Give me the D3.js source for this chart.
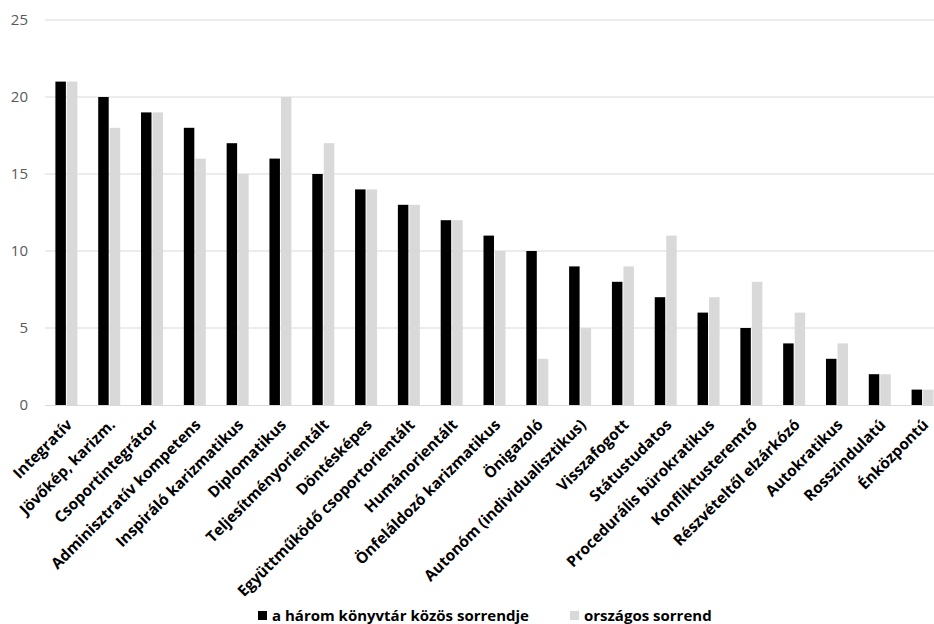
<!DOCTYPE html>
<html>
<head>
<meta charset="utf-8">
<script src="https://cdn.jsdelivr.net/npm/d3@7"></script>
<style>
  html, body { margin: 0; padding: 0; background: #fff; }
  svg { display: block; }
</style>
</head>
<body>
<svg id="chart" width="934" height="624"></svg>
<script>
// Leadership style rankings
const categories = [
  "Integratív", "Jövőkép, karizm.", "Csoportintegrátor", "Adminisztratív kompetens",
  "Inspiráló karizmatikus", "Diplomatikus", "Teljesítményorientált", "Döntésképes",
  "Együttműködő csoportorientált", "Humánorientált", "Önfeláldozó karizmatikus",
  "Önigazoló", "Autonóm (individualisztikus)", "Visszafogott", "Státustudatos",
  "Procedurális bürokratikus", "Konfliktusteremtő", "Részvételtől elzárkózó",
  "Autokratikus", "Rosszindulatú", "Énközpontú"
];
const kozosSorrend = [21, 20, 19, 18, 17, 16, 15, 14, 13, 12, 11, 10, 9, 8, 7, 6, 5, 4, 3, 2, 1];
const orszagosSorrend = [21, 18, 19, 16, 15, 20, 17, 14, 13, 12, 10, 3, 5, 9, 11, 7, 8, 6, 4, 2, 1];
const seriesNames = ["a három könyvtár közös sorrendje", "országos sorrend"];
const seriesColors = ["#000000", "#d9d9d9"];
const yTicks = [0, 5, 10, 15, 20, 25];

const svg = d3.select("#chart");
const margin = { left: 45, right: -10, top: 20, bottom: 219 };
const width = 934, height = 624;
const plotBottom = height - margin.bottom;

const x = d3.scaleBand()
  .domain(categories)
  .range([margin.left, width - margin.right])
  .paddingInner(0.486)
  .paddingOuter(0.243);

const xSub = d3.scaleBand()
  .domain([0, 1])
  .range([0, x.bandwidth()])
  .paddingInner(0.09);

const y = d3.scaleLinear().domain([0, 25]).range([plotBottom, margin.top]);

const plotLeft = margin.left;
const plotRight = width - margin.right;

// Horizontal gridlines
svg.append("g")
  .selectAll("line")
  .data(yTicks.filter(d => d > 0))
  .join("line")
  .attr("x1", plotLeft).attr("x2", plotRight)
  .attr("y1", d => y(d)).attr("y2", d => y(d))
  .attr("stroke", "#d9d9d9").attr("stroke-width", 1);

// Y axis labels
const yAxis = svg.append("g")
  .attr("transform", `translate(${plotLeft - 17},0)`)
  .call(d3.axisLeft(y).tickValues(yTicks).tickSize(0).tickPadding(0));
yAxis.select(".domain").remove();
yAxis.selectAll("text")
  .attr("font-family", "'Open Sans', sans-serif")
  .attr("font-size", 15)
  .attr("fill", "#595959");

// Bars
const rows = categories.map((c, i) => ({ cat: c, vals: [kozosSorrend[i], orszagosSorrend[i]] }));
const groups = svg.append("g")
  .selectAll("g")
  .data(rows)
  .join("g")
  .attr("transform", d => `translate(${x(d.cat)},0)`);
groups.selectAll("rect")
  .data(d => d.vals.map((v, k) => ({ v, k })))
  .join("rect")
  .attr("x", d => xSub(d.k))
  .attr("width", xSub.bandwidth())
  .attr("y", d => y(d.v))
  .attr("height", d => y(0) - y(d.v))
  .attr("fill", d => seriesColors[d.k]);

// Baseline
svg.append("line")
  .attr("x1", plotLeft).attr("x2", plotRight)
  .attr("y1", y(0) + 0.5).attr("y2", y(0) + 0.5)
  .attr("stroke", "#d9d9d9").attr("stroke-width", 1);

// Category labels, rotated
svg.append("g")
  .selectAll("text")
  .data(categories)
  .join("text")
  .attr("transform", d => `translate(${x(d) + x.bandwidth() / 2 + 3},${plotBottom + 17}) rotate(-45)`)
  .attr("text-anchor", "end")
  .attr("dy", "0.35em")
  .attr("font-family", "'Open Sans', sans-serif")
  .attr("font-weight", "bold")
  .attr("font-size", 15.4)
  .attr("fill", "#000")
  .text(d => d);

// Legend
const legend = svg.append("g");
const legendItems = [
  { name: seriesNames[0], color: seriesColors[0], x: 258 },
  { name: seriesNames[1], color: seriesColors[1], x: 570 }
];
const li = legend.selectAll("g").data(legendItems).join("g")
  .attr("transform", d => `translate(${d.x},611)`);
li.append("rect").attr("width", 9).attr("height", 9).attr("fill", d => d.color);
li.append("text")
  .attr("x", 14).attr("y", 9.5)
  .attr("font-family", "'Open Sans', sans-serif")
  .attr("font-weight", "bold")
  .attr("font-size", 15)
  .attr("fill", "#000")
  .text(d => d.name);
</script>
</body>
</html>
